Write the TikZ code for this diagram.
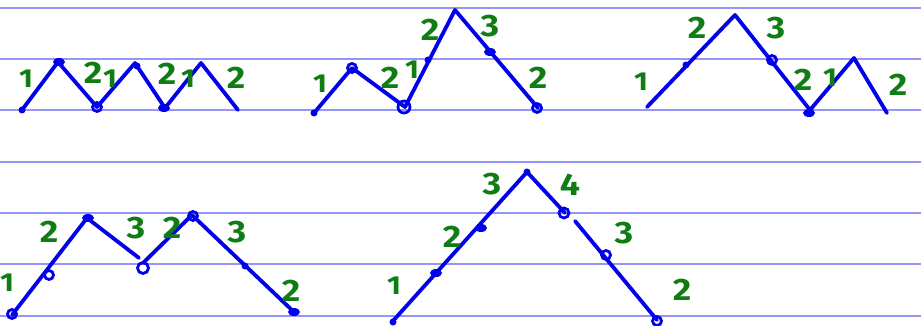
\documentclass[tikz,border=0pt]{standalone}
\usepackage{fontspec}
\setmainfont{Fira Sans}
\usetikzlibrary{shapes.geometric}
\definecolor{penblue}{RGB}{0,0,235}
\definecolor{inkgreen}{RGB}{15,125,20}
\definecolor{rulecol}{RGB}{150,150,250}
\begin{document}
\begin{tikzpicture}[x=1pt,y=-1pt,
  pen/.style={draw=penblue,line width=3.8pt,line cap=round,line join=round},
  ring/.style={circle,draw=penblue,line width=2.8pt,minimum size=9pt,inner sep=0pt},
  blob/.style={ellipse,fill=penblue,minimum width=12pt,minimum height=8pt,inner sep=0pt},
  tick/.style={ellipse,fill=penblue,minimum width=7pt,minimum height=7pt,inner sep=0pt},
  lab/.style={text=inkgreen,font=\fontsize{31}{31}\selectfont\bfseries,inner sep=0pt,xscale=1.15},
  one/.style={lab,font=\fontsize{26}{26}\selectfont\bfseries},
  ruleline/.style={draw=rulecol,line width=1.4pt}]
\useasboundingbox (0,0) rectangle (921,326);
% ruled lines
\foreach \yy in {8,59,110,162,213,264,316}
  \draw[ruleline] (0,\yy) -- (921,\yy);

% ---------- panel 1 ----------
\coordinate (p1a) at (22,110);
\coordinate (p1b) at (58,62);
\coordinate (p1c) at (97,107);
\coordinate (p1d) at (135,63);
\coordinate (p1e) at (165,108);
\coordinate (p1f) at (201,63);
\coordinate (p1g) at (238,110);
\draw[pen] (p1a) -- (p1b) -- (p1c) -- (p1d) -- (p1e) -- (p1f) -- (p1g);
\node[tick] (p1ma) at (p1a) {};
\node[blob] (p1mb) at (59,62) {};
\node[ring] (p1mc) at (97,107) {};
\node[tick] (p1md) at (137,66) {};
\node[blob] (p1me) at (164,108) {};
\node[one] (p1l1) at (26,79) {1};
\node[lab] (p1l2) at (93,73) {2};
\node[one] (p1l3) at (110,79) {1};
\node[lab] (p1l4) at (167,74) {2};
\node[one] (p1l5) at (188,79) {1};
\node[lab] (p1l6) at (236,78) {2};

% ---------- panel 2 ----------
\coordinate (p2a) at (314,113);
\coordinate (p2b) at (352,68);
\coordinate (p2c) at (405,107);
\coordinate (p2d) at (455,10);
\coordinate (p2e) at (538,108);
\draw[pen] (p2a) -- (p2b) -- (p2c) -- (p2d) -- (p2e);
\node[tick] (p2ma) at (p2a) {};
\node[ring] (p2mb) at (352,68) {};
\node[ring,minimum size=12pt] (p2mc) at (404,107) {};
\node[tick] (p2md) at (428,60) {};
\node[blob] (p2me) at (490,52) {};
\node[ring] (p2mf) at (537,108) {};
\node[one] (p2l1) at (320,84) {1};
\node[lab] (p2l2) at (390,78) {2};
\node[one] (p2l3) at (412,70) {1};
\node[lab] (p2l4) at (430,30) {2};
\node[lab] (p2l5) at (490,26) {3};
\node[lab] (p2l6) at (538,78) {2};

% ---------- panel 3 ----------
\coordinate (p3a) at (647,107);
\coordinate (p3b) at (735,15);
\coordinate (p3c) at (810,110);
\coordinate (p3d) at (854,58);
\coordinate (p3e) at (887,113);
\draw[pen] (p3a) -- (p3b) -- (p3c) -- (p3d) -- (p3e);
\node[tick] (p3ma) at (686,65) {};
\node[ring] (p3mb) at (772,60) {};
\node[blob] (p3mc) at (809,113) {};
\node[one] (p3l1) at (641,82) {1};
\node[lab] (p3l2) at (697,28) {2};
\node[lab] (p3l3) at (776,28) {3};
\node[lab] (p3l4) at (803,80) {2};
\node[one] (p3l5) at (830,78) {1};
\node[lab] (p3l6) at (898,85) {2};

% ---------- panel 4 ----------
\coordinate (p4a) at (12,315);
\coordinate (p4b) at (87,218);
\coordinate (p4c) at (139,258);
\coordinate (p4d) at (143,263);
\coordinate (p4e) at (192,215);
\coordinate (p4f) at (295,313);
\draw[pen] (p4a) -- (p4b) -- (p4c);
\draw[pen] (p4d) -- (p4e) -- (p4f);
\node[ring] (p4ma) at (12,314) {};
\node[ring] (p4mb) at (49,275) {};
\node[blob] (p4mc) at (88,218) {};
\node[ring,minimum size=11pt] (p4md) at (143,268) {};
\node[ring] (p4me) at (193,216) {};
\node[tick] (p4mf) at (245,266) {};
\node[blob] (p4mg) at (294,312) {};
\node[one] (p4l1) at (7,283) {1};
\node[lab] (p4l2) at (49,232) {2};
\node[lab] (p4l3) at (136,228) {3};
\node[lab] (p4l4) at (172,228) {2};
\node[lab] (p4l5) at (237,232) {3};
\node[lab] (p4l6) at (291,291) {2};

% ---------- panel 5 ----------
\coordinate (p5a) at (392,322);
\coordinate (p5b) at (527,172);
\coordinate (p5c) at (565,213);
\coordinate (p5d) at (575,221);
\coordinate (p5e) at (657,320);
\draw[pen] (p5a) -- (p5b) -- (p5c);
\draw[pen] (p5d) -- (p5e);
\node[tick] (p5ma) at (393,322) {};
\node[blob] (p5mb) at (436,273) {};
\node[blob] (p5mc) at (481,228) {};
\node[tick] (p5md) at (527,172) {};
\node[ring,minimum size=10pt] (p5me) at (564,213) {};
\node[ring] (p5mf) at (606,255) {};
\node[ring] (p5mg) at (657,321) {};
\node[one] (p5l1) at (394,286) {1};
\node[lab] (p5l2) at (452,237) {2};
\node[lab] (p5l3) at (492,184) {3};
\node[lab] (p5l4) at (570,185) {4};
\node[lab] (p5l5) at (624,233) {3};
\node[lab] (p5l6) at (682,290) {2};
\end{tikzpicture}
\end{document}
